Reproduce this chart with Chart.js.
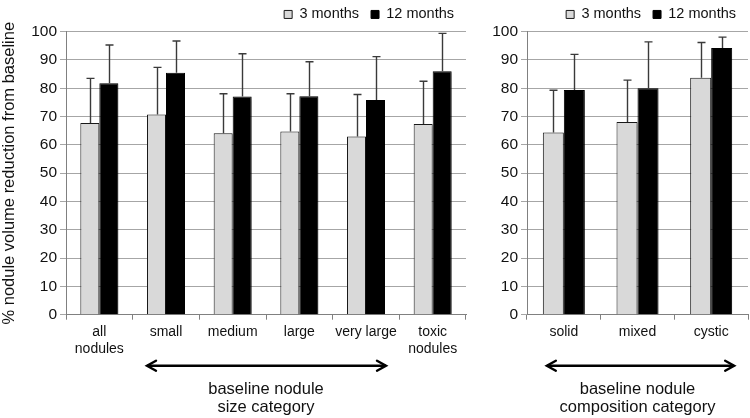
<!DOCTYPE html>
<html>
<head>
<meta charset="utf-8">
<script src="https://cdn.jsdelivr.net/npm/chart.js@4/dist/chart.umd.min.js"></script>
<style>
  html, body { margin: 0; padding: 0; background: #fff; }
  #wrap { position: relative; width: 750px; height: 418px; overflow: hidden; }
  #c1 { position: absolute; left: 0; top: 0; }
  #c2 { position: absolute; left: 470px; top: 0; }
</style>
</head>
<body>
<div id="wrap">
  <canvas id="c1" width="470" height="418"></canvas>
  <canvas id="c2" width="280" height="418"></canvas>
</div>
<script>
// ---- data ----
const sizeCategories = [['all', 'nodules'], 'small', 'medium', 'large', 'very large', ['toxic', 'nodules']];
const size3m   = [67.7, 70.7, 64.1, 64.7, 63.0, 67.4];
const size3mSD = [15.8, 16.7, 14.0, 13.4, 14.8, 15.1];
const size12m  = [81.8, 85.5, 77.1, 77.2, 75.9, 86.0];
const size12mSD = [13.5, 11.2, 15.1, 12.2, 15.3, 13.4];

const compCategories = ['solid', 'mixed', 'cystic'];
const comp3m   = [64.4, 68.1, 83.7];
const comp3mSD = [14.9, 14.8, 12.5];
const comp12m  = [79.4, 80.0, 94.2];
const comp12mSD = [12.6, 16.4, 3.9];

const seriesNames = ['3 months', '12 months'];
const yTicks = [0, 10, 20, 30, 40, 50, 60, 70, 80, 90, 100];
const yTitle = '% nodule volume reduction from baseline';
const sizeAxisTitle = ['baseline nodule', 'size category'];
const compAxisTitle = ['baseline nodule', 'composition category'];

// ---- style ----
const FONT = "'Liberation Sans', Arial, sans-serif";
const GRID = '#a6a6a6';
const AXIS = '#808080';
const TEXT = '#111';

const errorBarPlugin = {
  id: 'errorBars',
  beforeDatasetsDraw(chart) {
    const ctx = chart.ctx;
    ctx.save();
    ctx.shadowColor = 'rgba(0,0,0,0.28)';
    ctx.shadowOffsetX = 2;
    ctx.shadowOffsetY = 1;
    ctx.shadowBlur = 3;
  },
  afterDatasetsDraw(chart) {
    const ctx = chart.ctx;
    ctx.restore();
    const yScale = chart.scales.y;
    ctx.save();
    ctx.strokeStyle = '#3a3a3a';
    ctx.lineWidth = 1.4;
    chart.data.datasets.forEach((ds, i) => {
      const meta = chart.getDatasetMeta(i);
      meta.data.forEach((el, j) => {
        const err = ds.errors[j];
        const yBar = el.y;
        const yTop = yScale.getPixelForValue(ds.data[j] + err);
        const x = Math.round(el.x) + 0.5;
        ctx.beginPath();
        ctx.moveTo(x, yBar);
        ctx.lineTo(x, yTop);
        ctx.moveTo(x - 4, yTop);
        ctx.lineTo(x + 4, yTop);
        ctx.stroke();
      });
    });
    ctx.restore();
  }
};

const arrowPlugin = {
  id: 'arrow',
  afterDraw(chart, args, opts) {
    const xs = chart.scales.x;
    const ctx = chart.ctx;
    const x1 = xs.getPixelForValue(opts.from) - opts.extL;
    const x2 = xs.getPixelForValue(opts.to) + opts.extR;
    const y = chart.chartArea.bottom + opts.dy;
    ctx.save();
    ctx.strokeStyle = '#000';
    ctx.lineWidth = 2.4;
    ctx.lineCap = 'round';
    ctx.lineJoin = 'miter';
    ctx.beginPath();
    ctx.moveTo(x1 + 1, y);
    ctx.lineTo(x2 - 1, y);
    ctx.stroke();
    ctx.beginPath();
    ctx.moveTo(x1 + 9, y - 5);
    ctx.lineTo(x1, y);
    ctx.lineTo(x1 + 9, y + 5);
    ctx.moveTo(x2 - 9, y - 5);
    ctx.lineTo(x2, y);
    ctx.lineTo(x2 - 9, y + 5);
    ctx.stroke();
    ctx.restore();
  }
};

function makeChart(canvasId, labels, d3, e3, d12, e12, axisTitle, showYTitle, yWidth, padRight, arrow) {
  return new Chart(document.getElementById(canvasId), {
    type: 'bar',
    data: {
      labels: labels,
      datasets: [
        { label: seriesNames[0], data: d3, errors: e3, backgroundColor: '#d9d9d9', borderColor: '#1a1a1a', borderWidth: 1,
          categoryPercentage: 0.57, barPercentage: 1.0 },
        { label: seriesNames[1], data: d12, errors: e12, backgroundColor: '#000000', borderColor: '#000000', borderWidth: 1,
          categoryPercentage: 0.57, barPercentage: 1.0 }
      ]
    },
    options: {
      responsive: false,
      animation: false,
      layout: { padding: { left: 0, right: padRight, top: -10.5, bottom: 0 } },
      plugins: {
        legend: {
          display: true,
          position: 'top',
          align: 'end',
          labels: {
            boxWidth: 8, boxHeight: 8, padding: 12,
            color: TEXT,
            font: { family: FONT, size: 14.5 }
          }
        },
        tooltip: { enabled: false },
        arrow: arrow
      },
      scales: {
        x: {
          grid: { display: true, offset: true, drawOnChartArea: false, drawTicks: true, tickLength: 5, color: AXIS },
          border: { display: true, color: AXIS, width: 1 },
          ticks: { color: TEXT, font: { family: FONT, size: 14 }, padding: 4, maxRotation: 0, autoSkip: false },
          title: { display: true, text: axisTitle, color: TEXT, font: { family: FONT, size: 16.5, lineHeight: 1.12 },
                   padding: { top: 0, bottom: 1 } },
          afterFit(scale) { scale.height = 103.3; }
        },
        y: {
          min: 0, max: 100,
          afterBuildTicks(scale) { scale.ticks = yTicks.map(v => ({ value: v })); },
          grid: { color: GRID, drawTicks: true, tickLength: 6, lineWidth: 1 },
          border: { display: true, color: AXIS, width: 1 },
          ticks: { color: TEXT, font: { family: FONT, size: 15.5 }, padding: 3 },
          title: { display: showYTitle, text: yTitle, color: TEXT, font: { family: FONT, size: 16.5, lineHeight: 1.1 }, padding: 0 },
          afterFit(scale) { scale.width = yWidth; scale.paddingTop = 31.7; }
        }
      }
    },
    plugins: [errorBarPlugin, arrowPlugin]
  });
}

makeChart('c1', sizeCategories, size3m, size3mSD, size12m, size12mSD, sizeAxisTitle, true, 66, 4,
  { from: 1, to: 4, extL: 19, extR: 20, dy: 51 });
makeChart('c2', compCategories, comp3m, comp3mSD, comp12m, comp12mSD, compAxisTitle, false, 57, 2,
  { from: 0, to: 2, extL: 17, extR: 23, dy: 51 });
</script>
</body>
</html>
